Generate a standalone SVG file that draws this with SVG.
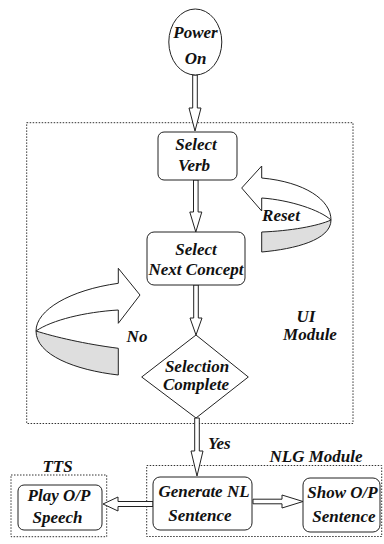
<svg xmlns="http://www.w3.org/2000/svg" width="384" height="544" viewBox="0 0 384 544">
<style>
.t{font-family:"Liberation Serif","Times New Roman",serif;font-weight:bold;font-style:italic;font-size:17px;fill:#111;text-anchor:middle}
.box{fill:#fff;stroke:#222;stroke-width:1}
.mod{fill:none;stroke:#333;stroke-width:1;stroke-dasharray:1.5 1.5}
.arr{fill:#fff;stroke:#222;stroke-width:1;stroke-linejoin:miter}
.grey{fill:#dedede;stroke:#222;stroke-width:1}
</style>
<rect width="384" height="544" fill="#fff"/>
<g id="modules">
<rect id="ui-module" class="mod" x="26.7" y="122.7" width="326.3" height="300.8"/>
<rect id="nlg-module" class="mod" x="146.7" y="465.5" width="235" height="71"/>
<rect id="tts-module" class="mod" x="11" y="475" width="95.7" height="61.7"/>
<text class="t" x="306" y="322">UI</text>
<text class="t" x="310" y="340">Module</text>
<text class="t" x="316" y="462">NLG Module</text>
<text class="t" x="57.5" y="472">TTS</text>
</g>
<g id="connectors">
<polygon class="arr" points="192.7,75 192.7,108 189,108 195,131 201,108 197.3,108 197.3,75"/>
<polygon class="arr" points="193.5,180 193.5,212 189.8,212 195.8,232 201.8,212 198.1,212 198.1,180"/>
<polygon class="arr" points="193.7,285 193.7,318 190,318 196,335 202,318 198.3,318 198.3,285"/>
<polygon class="arr" points="194.7,418 194.7,451 191,451 197,476 203,451 199.3,451 199.3,418"/>
<polygon class="arr" points="253,499.2 282,499.2 282,495 303,501.5 282,508 282,503.8 253,503.8"/>
<polygon class="arr" points="153,501.5 118,501.5 118,497 103,504 118,511 118,506.5 153,506.5"/>
<g id="reset-arrow">
<path class="arr" d="M261.7,166 L241.7,188 L261.7,211 L261.7,198 C290,200 320,210 331,220 C331,200 305,182 261.7,178 Z"/>
<path class="grey" d="M331,220 C331,240 295,249 261.7,252 L261.7,232 C290,231 318,226 331,220 Z"/>
<text class="t" x="281" y="221">Reset</text>
</g>
<g id="no-arrow">
<path class="arr" d="M118.3,268.3 L140,295 L118.3,323.3 L118.3,310 C85,312 52,320 36,331 C36,310 70,290 118.3,283.3 Z"/>
<path class="grey" d="M36,331 C36,355 75,370 118.3,375 L118.3,348.3 C85,344 55,337 36,331 Z"/>
<text class="t" x="137" y="342">No</text>
</g>
<text class="t" x="208" y="449" style="text-anchor:start">Yes</text>
</g>
<g id="power-on">
<ellipse class="box" cx="195.3" cy="42" rx="26.5" ry="33"/>
<text class="t" x="195.5" y="38">Power</text>
<text class="t" x="195.5" y="64">On</text>
</g>
<g id="select-verb">
<rect class="box" x="158" y="132" width="79" height="48" rx="6"/>
<text class="t" x="196" y="150">Select</text>
<text class="t" x="194" y="171">Verb</text>
</g>
<g id="select-next-concept">
<rect class="box" x="147" y="232" width="98" height="53" rx="7"/>
<text class="t" x="196" y="255">Select</text>
<text class="t" x="196" y="275">Next Concept</text>
</g>
<g id="selection-complete">
<polygon class="box" points="196,335 248.3,377 196,418 141.7,377"/>
<text class="t" x="197" y="372">Selection</text>
<text class="t" x="196" y="390">Complete</text>
</g>
<g id="generate-nl">
<rect class="box" x="153" y="477" width="99" height="53" rx="7"/>
<text class="t" x="204" y="497">Generate NL</text>
<text class="t" x="200" y="521">Sentence</text>
</g>
<g id="show-op">
<rect class="box" x="303" y="478" width="77" height="54" rx="7"/>
<text class="t" x="342.5" y="498">Show O/P</text>
<text class="t" x="344" y="521.5">Sentence</text>
</g>
<g id="play-op">
<rect class="box" x="18" y="485" width="84" height="45" rx="6"/>
<text class="t" x="59" y="501">Play O/P</text>
<text class="t" x="57.5" y="523">Speech</text>
</g>
</svg>
